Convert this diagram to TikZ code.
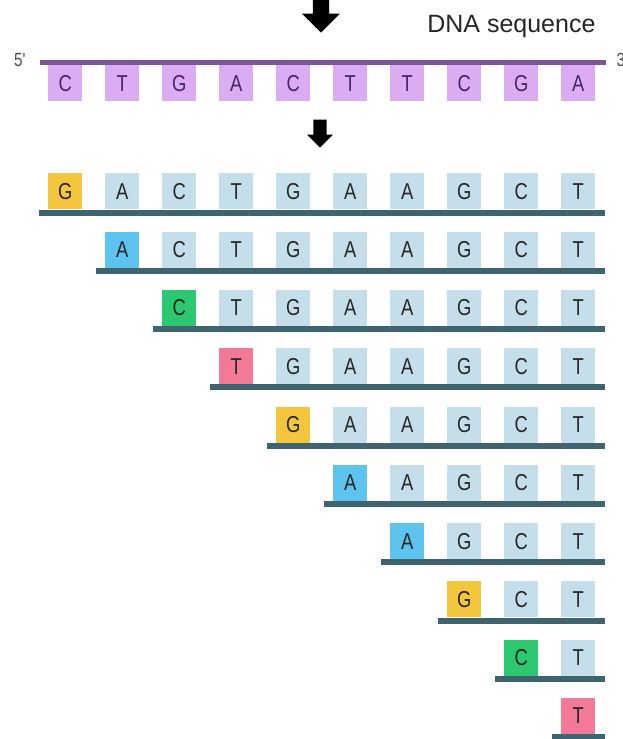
\documentclass[tikz,border=0pt]{standalone}
\usepackage{fontspec}
\setmainfont{Liberation Sans}
\newfontfamily\basefont{Liberation Sans}[FakeStretch=0.8]
\usetikzlibrary{shapes.arrows}

\definecolor{strandpurple}{RGB}{122,86,152}
\definecolor{boxpurple}{RGB}{220,172,242}
\definecolor{letterpurple}{RGB}{68,38,98}
\definecolor{boxblue}{RGB}{196,222,234}
\definecolor{strandteal}{RGB}{62,100,112}
\definecolor{baseG}{RGB}{243,198,62}
\definecolor{baseA}{RGB}{92,196,238}
\definecolor{baseC}{RGB}{44,200,112}
\definecolor{baseT}{RGB}{242,122,150}

\begin{document}
\begin{tikzpicture}[x=1pt, y=-1pt,
	base/.style={minimum width=34pt, minimum height=36pt, inner sep=0pt, font=\basefont\fontsize{23}{23}\selectfont},
	topbase/.style={base, anchor=north, fill=boxpurple, text=letterpurple},
	rowbase/.style={base, anchor=south, fill=boxblue, text=black!85},
	newbase/.style={base, anchor=south, fill=base#1, text=black!85},
	blockarrow/.style={single arrow, fill=black, shape border rotate=270, single arrow head indent=0pt, anchor=tip}]
	\useasboundingbox[fill=white] (0,0) rectangle (623,739);

	% template strand
	\node[blockarrow, inner sep=8pt, single arrow head extend=11pt, minimum height=40pt] (inarrow) at (321,33) {};
	\node[anchor=base east, font=\fontsize{25}{25}\selectfont, text=black!85] (title) at (599,32) {DNA sequence};
	\coordinate (top-start) at (40,62.5);
	\coordinate (top-end) at (606,62.5);
	\draw[strandpurple, line width=5pt] (top-start) -- (top-end);
	\node[anchor=east, font=\basefont\fontsize{19}{19}\selectfont, text=black!70] (five) at (29,60) {5'};
	\node[anchor=west, font=\basefont\fontsize{19}{19}\selectfont, text=black!70] (three) at (613,60) {3'};
	\foreach \b [count=\k from 0] in {C,T,G,A,C,T,T,C,G,A}
		\node[topbase] (top-\k) at ({65.3+57*\k},65) {\b};

	\node[blockarrow, inner sep=6.5pt, single arrow head extend=6.5pt, minimum height=28pt] (outarrow) at (320,148) {};

	% fragments, one base shorter each row
	\foreach \r in {0,...,9} {
		\pgfmathsetmacro{\ly}{212.5+58.3*\r}
		\coordinate (s\r) at ({39.3+57*\r},\ly);
		\coordinate (e\r) at (605,\ly);
		\draw[strandteal, line width=6pt] (s\r) -- (e\r);
		\foreach \b [count=\c from 0] in {G,A,C,T,G,A,A,G,C,T} {
			\ifnum\c=\r \node[newbase=\b] (b\r-\c) at ({65.3+57*\c},\ly-3) {\b}; \fi
			\ifnum\c>\r \node[rowbase] (b\r-\c) at ({65.3+57*\c},\ly-3) {\b}; \fi
		}
	}
\end{tikzpicture}
\end{document}
